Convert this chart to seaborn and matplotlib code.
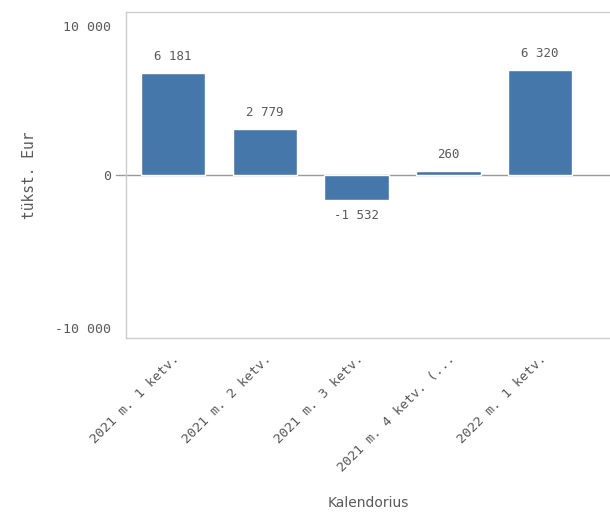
import matplotlib
matplotlib.use("Agg")
import matplotlib.pyplot as plt
import seaborn as sns
import pandas as pd

# data
ketvirciai = ["2021 m. 1 ketv.", "2021 m. 2 ketv.", "2021 m. 3 ketv.",
              "2021 m. 4 ketv. (...", "2022 m. 1 ketv."]
reiksmes = [6181, 2779, -1532, 260, 6320]
bar_labels = ["6 181", "2 779", "-1 532", "260", "6 320"]
ytick_labels = ["-10 000", "0", "10 000"]

df = pd.DataFrame({"ketv": ketvirciai, "val": reiksmes})

sns.set_style("white")
grey = "#595959"
mono = "DejaVu Sans Mono"

fig = plt.figure(figsize=(6.10, 5.13), dpi=100)
ax = fig.add_axes([126 / 610, 1 - 338 / 513, 1 - 126 / 610, (338 - 12) / 513])

sns.barplot(data=df, x="ketv", y="val", color="#4677AA", saturation=1,
            width=0.7, ax=ax)

ylim = 9850
ax.set_ylim(-ylim, ylim)
ax.set_xlim(-0.51, 4.76)
# Qlik draws the end labels just inside the plot edges
ax.set_yticks([-9250, 0, 9030])
ax.set_yticklabels(ytick_labels, family=mono, fontsize=9.5, color=grey)

ax.set_xticks(range(len(ketvirciai)))
ax.set_xticklabels(ketvirciai, rotation=45, ha="right", rotation_mode="anchor",
                   family=mono, fontsize=9.5, color=grey)
ax.tick_params(axis="y", length=0, pad=11)
ax.tick_params(axis="x", length=0, pad=10)

# zero line sticking out a little left of the axis
ax.plot([-0.02, 1], [0.5, 0.5], transform=ax.transAxes, color="#999999",
        lw=1, clip_on=False, zorder=0)

for i, (v, lab) in enumerate(zip(reiksmes, bar_labels)):
    if v >= 0:
        ax.text(i, v + 600, lab, ha="center", va="bottom", family=mono,
                fontsize=9, color=grey)
    else:
        ax.text(i, v - 550, lab, ha="center", va="top", family=mono,
                fontsize=9, color=grey)

for s in ["top", "bottom", "left"]:
    ax.spines[s].set_color("#cccccc")
    ax.spines[s].set_linewidth(1)
ax.spines["right"].set_visible(False)

ax.set_ylabel("tükst. Eur", family=mono, fontsize=10.5, color=grey, labelpad=13)
ax.set_xlabel("Kalendorius", fontsize=10, color=grey, labelpad=16)

fig.savefig("out.png", dpi=100)
